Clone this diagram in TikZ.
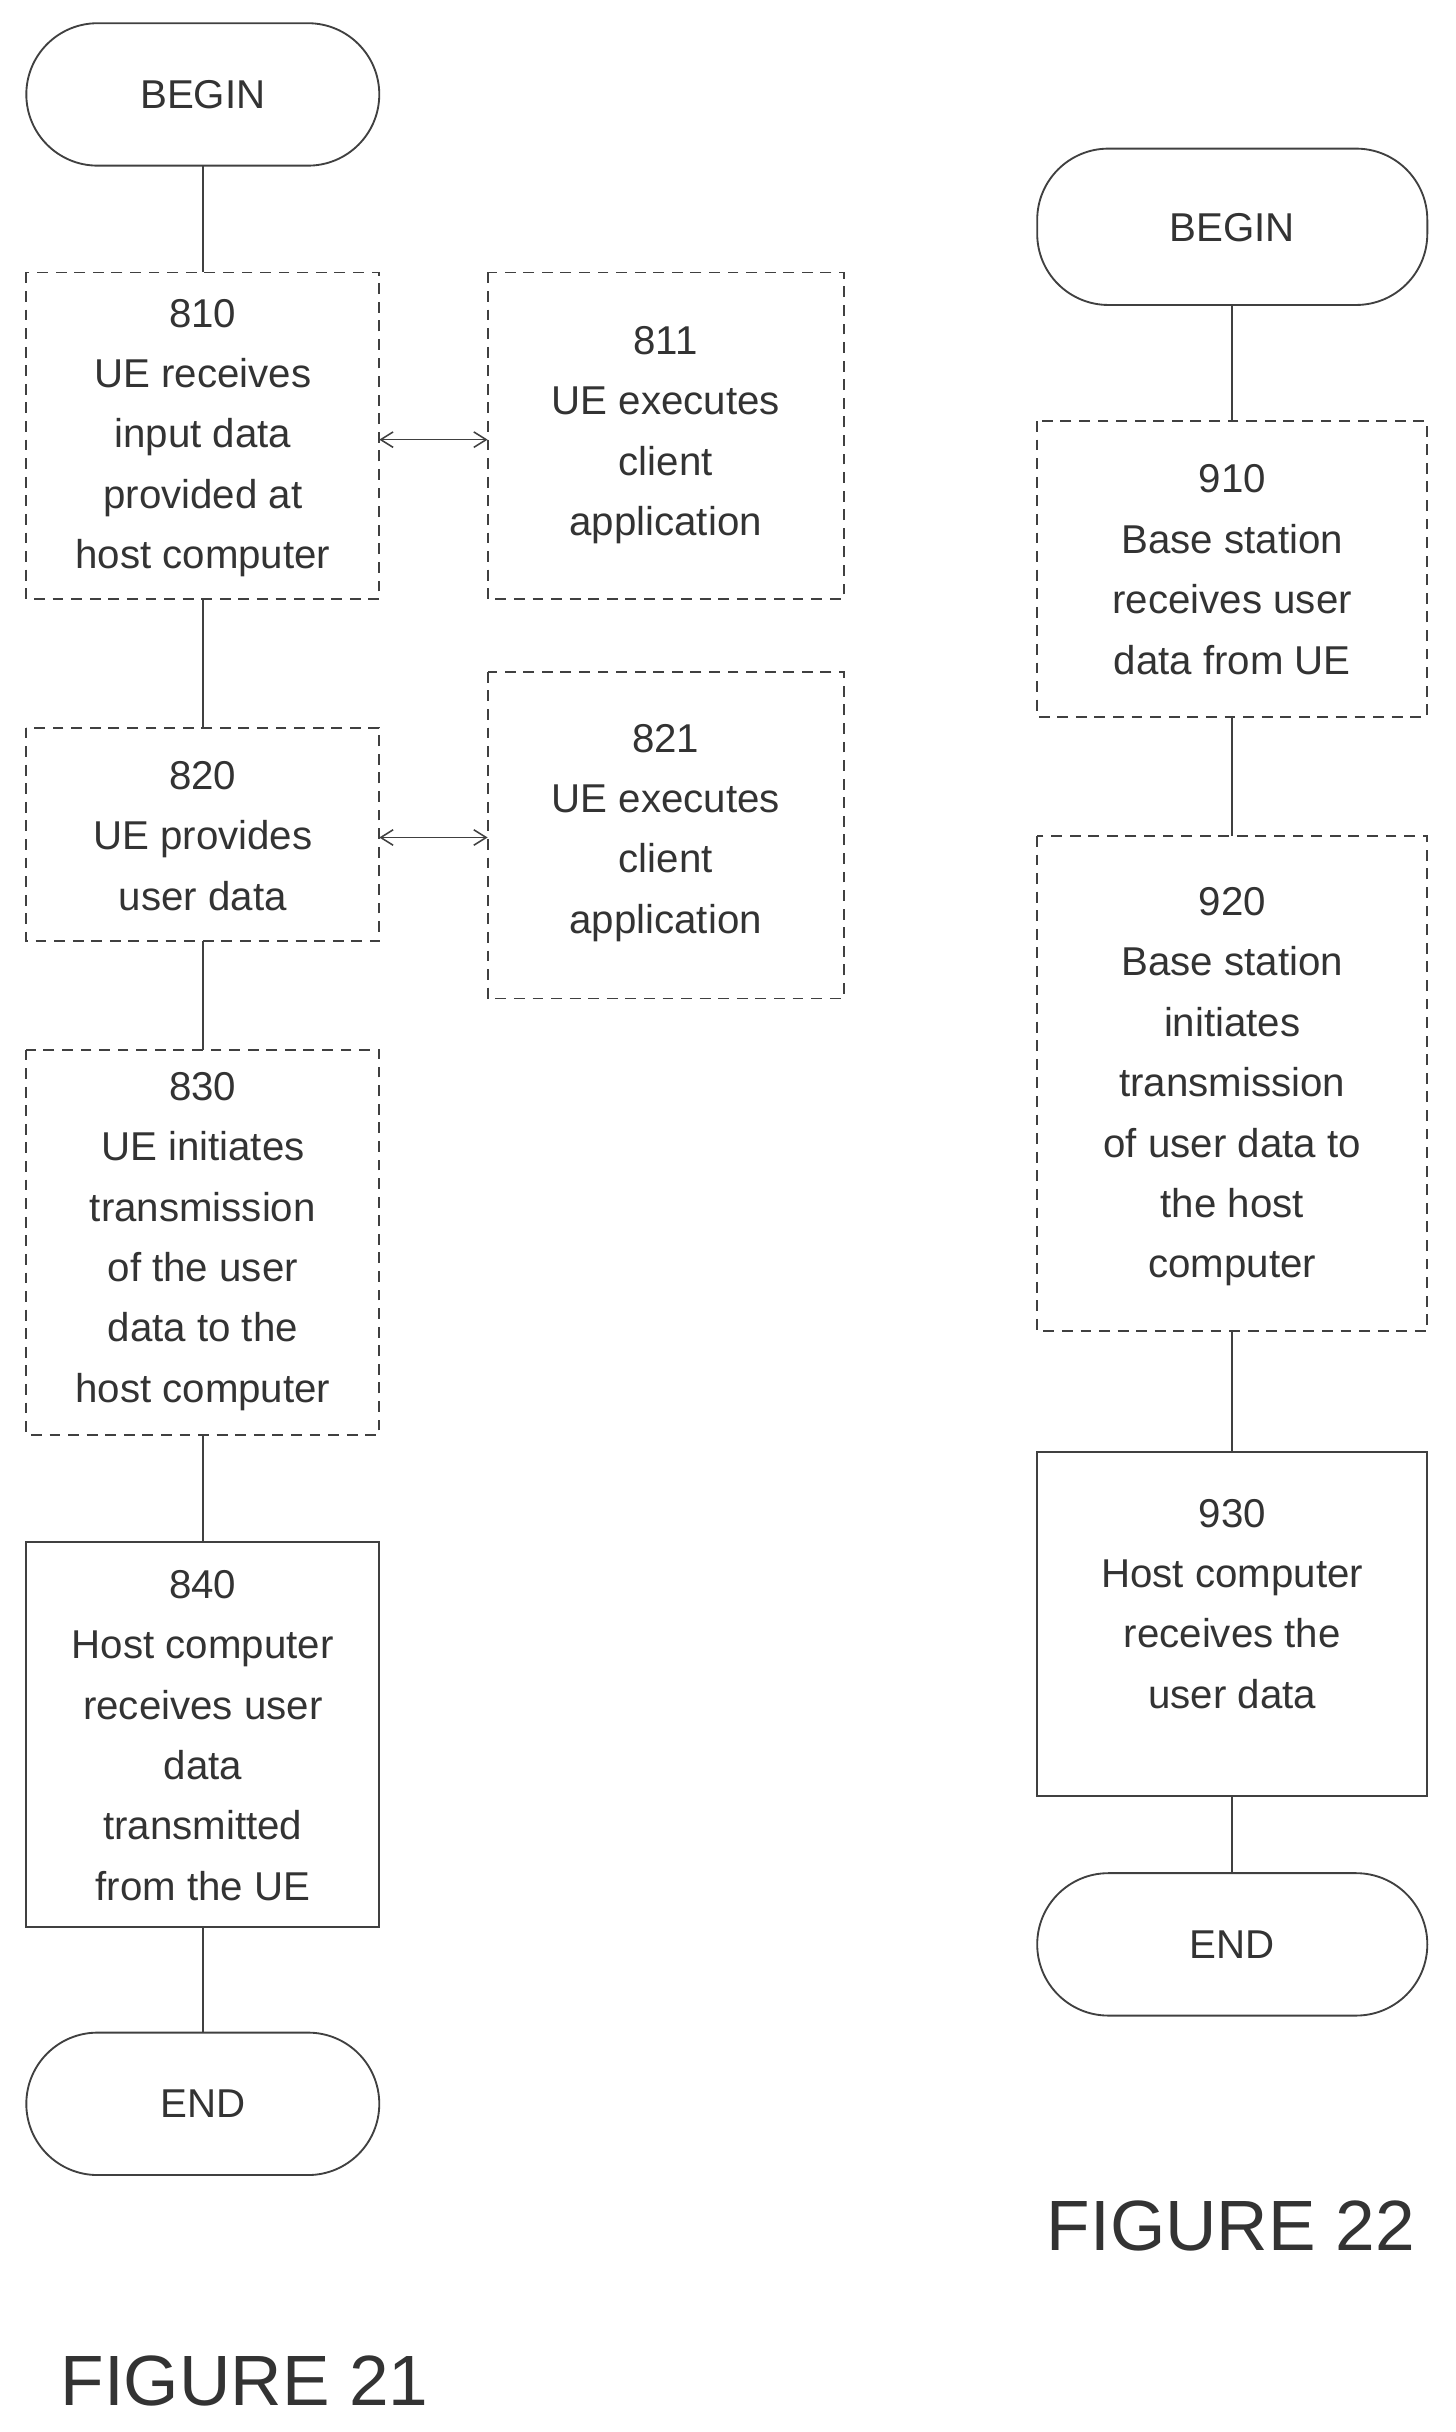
\documentclass[tikz,border=0pt]{standalone}
\usepackage{fontspec}
\setmainfont{Liberation Sans}
\usetikzlibrary{arrows.meta}
\begin{document}
\begin{tikzpicture}[x=1pt,y=-1pt,
  txt/.style={font=\fontsize{26}{39}\selectfont, align=center, text=black!80},
  dbox/.style={draw=black!75, dashed, dash pattern=on 7pt off 5pt, line width=1.2pt},
  sbox/.style={draw=black!75, line width=1.2pt},
  term/.style={draw=black!75, line width=1.2pt, rounded corners=46pt},
  ln/.style={draw=black!75, line width=1.2pt},
  dbl/.style={draw=black!75, line width=1pt, {Straight Barb[length=8pt,width=10pt]}-{Straight Barb[length=8pt,width=10pt]}}]
\useasboundingbox (0,0) rectangle (940,1571);
% left flowchart
\draw[term] (17,15) rectangle (245,107); \node[txt] (b1) at (131,61) {BEGIN};
\draw[dbox] (17,176) rectangle (245,387); \node[txt] (n810) at (131,283) {810\\UE receives\\input data\\provided at\\host computer};
\draw[dbox] (315,176) rectangle (545,387); \node[txt] (n811) at (430,281) {811\\UE executes\\client\\application};
\draw[dbox] (17,470) rectangle (245,608); \node[txt] (n820) at (131,540) {820\\UE provides\\user data};
\draw[dbox] (315,434) rectangle (545,645); \node[txt] (n821) at (430,538) {821\\UE executes\\client\\application};
\draw[dbox] (17,678) rectangle (245,927); \node[txt] (n830) at (131,802) {830\\UE initiates\\transmission\\of the user\\data to the\\host computer};
\draw[sbox] (17,996) rectangle (245,1245); \node[txt] (n840) at (131,1121) {840\\Host computer\\receives user\\data\\transmitted\\from the UE};
\draw[term] (17,1313) rectangle (245,1405); \node[txt] (e1) at (131,1359) {END};
\coordinate (c1) at (131,107); \coordinate (c2) at (131,176);
\draw[ln] (c1) -- (c2);
\coordinate (c3) at (131,387); \coordinate (c4) at (131,470); \draw[ln] (c3) -- (c4);
\coordinate (c5) at (131,608); \coordinate (c6) at (131,678); \draw[ln] (c5) -- (c6);
\coordinate (c7) at (131,927); \coordinate (c8) at (131,996); \draw[ln] (c7) -- (c8);
\coordinate (c9) at (131,1245); \coordinate (c10) at (131,1313); \draw[ln] (c9) -- (c10);
\coordinate (a1) at (245,284); \coordinate (a2) at (315,284); \draw[dbl] (a1) -- (a2);
\coordinate (a3) at (245,541); \coordinate (a4) at (315,541); \draw[dbl] (a3) -- (a4);
\node[font=\fontsize{46}{50}\selectfont, text=black!80] (f21) at (158,1538) {FIGURE 21};
% right flowchart
\draw[term] (670,96) rectangle (922,197); \node[txt] (b2) at (796,147) {BEGIN};
\draw[dbox] (670,272) rectangle (922,463); \node[txt] (n910) at (796,368) {910\\Base station\\receives user\\data from UE};
\draw[dbox] (670,540) rectangle (922,860); \node[txt] (n920) at (796,702) {920\\Base station\\initiates\\transmission\\of user data to\\the host\\computer};
\draw[sbox] (670,938) rectangle (922,1160); \node[txt] (n930) at (796,1036) {930\\Host computer\\receives the\\user data};
\draw[term] (670,1210) rectangle (922,1302); \node[txt] (e2) at (796,1256) {END};
\coordinate (d1) at (796,197); \coordinate (d2) at (796,272); \draw[ln] (d1) -- (d2);
\coordinate (d3) at (796,463); \coordinate (d4) at (796,540); \draw[ln] (d3) -- (d4);
\coordinate (d5) at (796,860); \coordinate (d6) at (796,938); \draw[ln] (d5) -- (d6);
\coordinate (d7) at (796,1160); \coordinate (d8) at (796,1210); \draw[ln] (d7) -- (d8);
\node[font=\fontsize{46}{50}\selectfont, text=black!80] (f22) at (795,1438) {FIGURE 22};
\end{tikzpicture}
\end{document}
